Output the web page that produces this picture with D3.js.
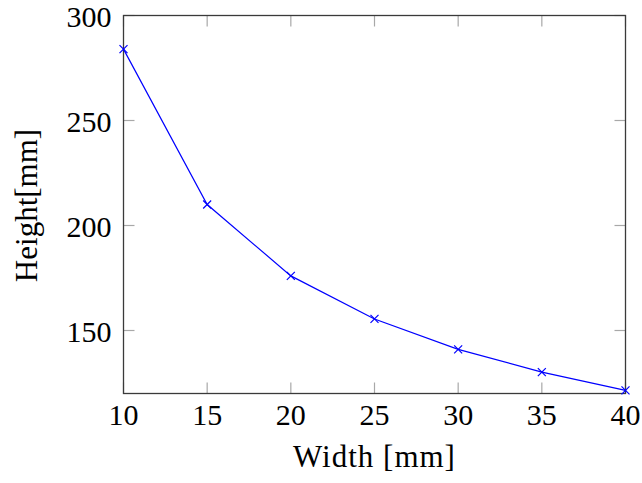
<!DOCTYPE html>
<html>
<head>
<meta charset="utf-8">
<script src="https://cdn.jsdelivr.net/npm/d3@7"></script>
<style>
  body { margin: 0; background: #fff; }
  text { font-family: "Liberation Serif", "DejaVu Serif", serif; fill: #000; }
</style>
</head>
<body>
<svg width="642" height="483"></svg>
<script>
'use strict';

// widths [mm] and heights [mm]
const widths = [10, 15, 20, 25, 30, 35, 40];
const heights = [284, 210, 176, 155.5, 141, 130.2, 121.5];
const xTicks = [10, 15, 20, 25, 30, 35, 40];
const yTicks = [150, 200, 250, 300];

const plotL = 123.5, plotR = 625.5, plotT = 15.5, plotB = 393.5;

const svg = d3.select("svg");

const x = d3.scaleLinear().domain([10, 40]).range([plotL, plotR]);
const y = d3.scaleLinear().domain([120, 300]).range([plotB, plotT]);

// ticks drawn inward, mirrored on the opposite sides
const tickLen = 11;
const ticks = svg.append("g").attr("stroke", "#a8a8a8").attr("stroke-width", 1.2);

xTicks.forEach((t) => {
  ticks.append("line").attr("x1", x(t)).attr("x2", x(t)).attr("y1", plotB).attr("y2", plotB - tickLen);
  ticks.append("line").attr("x1", x(t)).attr("x2", x(t)).attr("y1", plotT).attr("y2", plotT + tickLen);
});
yTicks.forEach((t) => {
  ticks.append("line").attr("x1", plotL).attr("x2", plotL + tickLen).attr("y1", y(t)).attr("y2", y(t));
  ticks.append("line").attr("x1", plotR).attr("x2", plotR - tickLen).attr("y1", y(t)).attr("y2", y(t));
});

// frame
svg.append("rect")
  .attr("x", plotL).attr("y", plotT)
  .attr("width", plotR - plotL).attr("height", plotB - plotT)
  .attr("fill", "none").attr("stroke", "#3a3a3a").attr("stroke-width", 1.3);

// tick labels
svg.append("g").selectAll("text").data(xTicks).join("text")
  .attr("x", (d) => x(d)).attr("y", 425)
  .attr("text-anchor", "middle").attr("font-size", 30)
  .text((d) => d);

svg.append("g").selectAll("text").data(yTicks).join("text")
  .attr("x", plotL - 12).attr("y", (d) => y(d) + 11)
  .attr("text-anchor", "end").attr("font-size", 30)
  .text((d) => d);

// axis labels
svg.append("text")
  .attr("x", (plotL + plotR) / 2).attr("y", 467)
  .attr("text-anchor", "middle").attr("font-size", 31)
  .attr("letter-spacing", 1)
  .text("Width [mm]");

svg.append("text")
  .attr("transform", "translate(37," + ((plotT + plotB) / 2 + 1) + ") rotate(-90)")
  .attr("text-anchor", "middle").attr("font-size", 31)
  .text("Height[mm]");

// line
const pts = widths.map((w, i) => [w, heights[i]]);
svg.append("path")
  .datum(pts)
  .attr("fill", "none").attr("stroke", "#0000ff").attr("stroke-width", 1.2)
  .attr("d", d3.line().x((d) => x(d[0])).y((d) => y(d[1])));

// x markers
const m = 4;
svg.append("g").attr("stroke", "#0000ff").attr("stroke-width", 1.2)
  .selectAll("path").data(pts).join("path")
  .attr("d", (d) => {
    const cx = x(d[0]), cy = y(d[1]);
    return "M" + (cx - m) + "," + (cy - m) + "L" + (cx + m) + "," + (cy + m) +
           "M" + (cx - m) + "," + (cy + m) + "L" + (cx + m) + "," + (cy - m);
  });
</script>
</body>
</html>
